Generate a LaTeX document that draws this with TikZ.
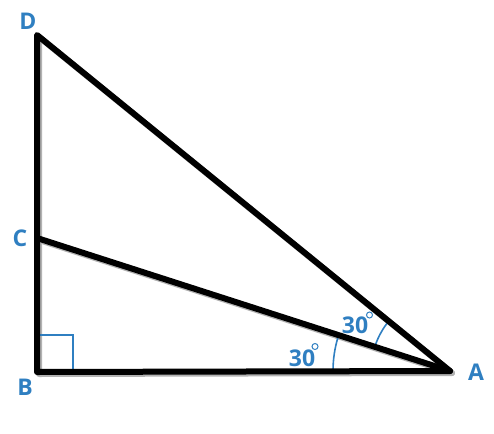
\documentclass[tikz,border=0pt]{standalone}
\usepackage{fontspec}
\setmainfont{Open Sans}
\definecolor{lblue}{HTML}{2F7FC1}
\begin{document}
\begin{tikzpicture}[x=1pt,y=-1pt,
  edge/.style={line width=6pt,line cap=round,line join=round,black},
  shadowedge/.style={line width=6pt,line cap=round,line join=round,black!30},
  lbl/.style={text=lblue,font=\bfseries\fontsize{23}{23}\selectfont,inner sep=0pt},
  ang/.style={text=lblue,font=\bfseries\fontsize{23}{23}\selectfont,inner sep=0pt},
  thin/.style={draw=lblue,line width=1.6pt}]
\useasboundingbox (0,0) rectangle (494,433);
\coordinate (D) at (37,35);
\coordinate (C) at (37,238);
\coordinate (B) at (37,372);
\coordinate (A) at (450,371);
% shadows
\draw[shadowedge,transform canvas={shift={(2pt,-2pt)}}] (D) -- (B) -- (A) -- cycle;
\draw[shadowedge,transform canvas={shift={(2pt,-2pt)}}] (C) -- (A);
% right angle
\draw[thin] (37,335) -- (73,335) -- (73,372);
% angle arcs
\draw[thin] ([shift={(180:117)}]A) arc[start angle=180,end angle=197,radius=117];
\draw[thin] ([shift={(199:79)}]A) arc[start angle=199,end angle=219,radius=79];
% triangle
\draw[edge] (D) -- (B) -- (A) -- cycle;
\draw[edge] (C) -- (A);
% labels
\node[lbl] (lD) at (28,21) {D};
\node[lbl] (lC) at (20,238) {C};
\node[lbl] (lB) at (25,387) {B};
\node[lbl] (lA) at (476,372) {A};
\node[ang] (a1) at (355,325) {30};
\node[ang] (a2) at (302,358) {30};
\draw[draw=lblue,line width=1pt] (369.5,315) circle (3);
\draw[draw=lblue,line width=1pt] (315,346.5) circle (3);
\end{tikzpicture}
\end{document}
